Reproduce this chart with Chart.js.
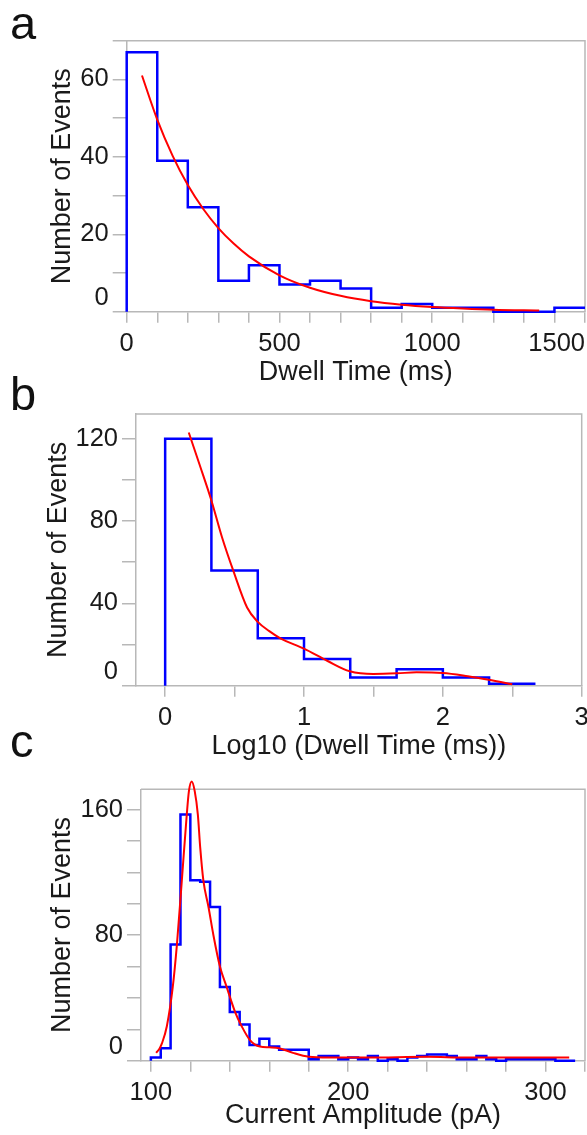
<!DOCTYPE html>
<html>
<head>
<meta charset="utf-8">
<script src="https://cdn.jsdelivr.net/npm/chart.js@4.4.1/dist/chart.umd.min.js"></script>
<style>
  body { margin: 0; background: #fff; width: 587px; height: 1135px; position: relative; overflow: hidden; font-family: 'Liberation Sans', Arial, sans-serif; }
  canvas { position: absolute; left: 0; }
  .lbl { position: absolute; left: 10px; font-size: 47px; line-height: 46px; color: #111; }
</style>
</head>
<body>
<canvas id="chartA" width="587" height="390" style="top:0"></canvas>
<canvas id="chartB" width="587" height="380" style="top:390px"></canvas>
<canvas id="chartC" width="587" height="365" style="top:770px"></canvas>
<div class="lbl" style="top:0">a</div>
<div class="lbl" style="top:371px">b</div>
<div class="lbl" style="top:718px">c</div>
<script>
// panel a: dwell time histogram (100 ms bins) + exponential fit
const aEdges = [0, 100, 200, 300, 400, 500, 600, 700, 800, 900, 1000, 1100, 1200, 1300, 1400, 1500];
const aCounts = [67, 39, 27, 8, 12, 7, 8, 6, 1, 2, 1, 1, 0, 0, 1];
const aFitX = [50, 100, 150, 200, 250, 300, 350, 400, 500, 600, 700, 800, 900, 1000, 1100, 1200, 1350];
const aFitY = [61, 49.6, 40.3, 32.7, 26.6, 21.6, 17.6, 14.3, 9.4, 6.2, 4.1, 2.7, 1.8, 1.2, 0.8, 0.5, 0.3];
const aXTicks = [0, 100, 200, 300, 400, 500, 600, 700, 800, 900, 1000, 1100, 1200, 1300, 1400, 1500];
const aXLabels = [0, 500, 1000, 1500];
const aYTicks = [0, 10, 20, 30, 40, 50, 60, 70];
const aYLabels = [0, 20, 40, 60];

// panel b: log10 dwell time
const bEdges = [0, 0.333, 0.667, 1, 1.333, 1.667, 2, 2.333, 2.667];
const bCounts = [120, 56, 23, 13, 4, 8, 4, 1];
const bFitX = [0.17, 0.25, 0.333, 0.41, 0.49, 0.59, 0.667, 0.75, 0.83, 1.0, 1.17, 1.33, 1.5, 1.67, 1.81, 2.0, 2.18, 2.33, 2.5];
const bFitY = [123, 107, 90, 72, 56, 38, 31, 26.5, 23, 18, 12, 7, 5.7, 6, 6.5, 6.2, 4.6, 2.9, 0.7];
const bXTicks = [0, 0.5, 1, 1.5, 2, 2.5, 3];
const bXLabels = [0, 1, 2, 3];
const bYTicks = [0, 20, 40, 60, 80, 100, 120];
const bYLabels = [0, 40, 80, 120];

// panel c: current amplitude (5 pA bins)
const cEdges = [100, 105, 110, 115, 120, 125, 130, 135, 140, 145, 150, 155, 160, 165, 170, 175, 180, 185, 190, 195, 200,
  205, 210, 215, 220, 225, 230, 235, 240, 245, 250, 255, 260, 265, 270, 275, 280, 285, 290, 295, 300, 305, 310, 315];
const cCounts = [2, 8, 74, 157, 115, 114, 98, 47, 31, 23, 10, 14, 9, 7, 7, 7, 1, 3, 3, 1, 2,
  1, 3, 0, 1, 0, 2, 3, 4, 4, 3, 1, 1, 3, 1, 0, 1, 1, 1, 1, 1, 0, 0];
const cFitX = [102.7, 104.5, 105.6, 108.1, 111.1, 113.2, 115.7, 118.2, 119.3, 120.7, 122.2, 123.8, 125, 126.6, 129.2,
  131.7, 135, 138.4, 142.7, 146, 150.3, 155.3, 160, 165, 172, 180, 190, 210, 240, 260, 290, 312];
const cFitY = [5, 8, 11, 22, 47, 74, 115, 157, 172, 178, 172, 157, 136, 115, 98,
  80, 60, 47, 31, 22, 13, 9, 8.5, 8, 5, 2.5, 2, 2, 2.5, 2, 2, 2];
const cXTicks = [100, 120, 140, 160, 180, 200, 220, 240, 260, 280, 300, 320];
const cXLabels = [100, 200, 300];
const cYTicks = [0, 20, 40, 60, 80, 100, 120, 140, 160];
const cYLabels = [0, 80, 160];

Chart.defaults.font.family = "'Liberation Sans', Arial, sans-serif";
Chart.defaults.color = '#1a1a1a';
const axisGrey = '#b8b8b8';

const framePlugin = {
  id: 'frame',
  beforeDatasetsDraw(chart) {
    const { ctx, chartArea: a } = chart;
    ctx.save();
    ctx.strokeStyle = axisGrey;
    ctx.lineWidth = 1.5;
    ctx.beginPath();
    ctx.moveTo(a.left, a.top);
    ctx.lineTo(a.right, a.top);
    ctx.lineTo(a.right, a.bottom);
    ctx.stroke();
    ctx.restore();
  }
};

function histPoints(edges, counts) {
  const pts = [{ x: edges[0], y: 0 }];
  counts.forEach((c, i) => pts.push({ x: edges[i], y: c }));
  pts.push({ x: edges[edges.length - 1], y: counts[counts.length - 1] });
  return pts;
}

function fitPoints(xs, ys) {
  return xs.map((x, i) => ({ x: x, y: ys[i] }));
}

function makeChart(id, cfg) {
  const grid = (len) => ({ drawOnChartArea: false, drawTicks: true, tickLength: len, color: axisGrey, lineWidth: 1.5 });
  const border = { display: true, color: axisGrey, width: 1.5 };
  return new Chart(document.getElementById(id), {
    type: 'line',
    data: {
      datasets: [
        { data: fitPoints(cfg.fitX, cfg.fitY), borderColor: '#ff0000', borderWidth: 2, pointRadius: 0,
          cubicInterpolationMode: 'monotone', clip: false },
        { data: histPoints(cfg.edges, cfg.counts), borderColor: '#0000ff', borderWidth: 2.5, pointRadius: 0,
          stepped: 'before', clip: false }
      ]
    },
    options: {
      responsive: false,
      animation: false,
      layout: { padding: cfg.padding },
      plugins: { legend: { display: false }, tooltip: { enabled: false } },
      scales: {
        x: {
          type: 'linear', min: cfg.xMin, max: cfg.xMax,
          afterBuildTicks: s => { s.ticks = cfg.xTicks.map(v => ({ value: v })); },
          afterFit: s => { s.height = cfg.xHeight; s.paddingLeft = 0; s.paddingRight = 0; },
          ticks: {
            autoSkip: false, maxRotation: 0, minRotation: 0, padding: 6, font: { size: 25.5 },
            // last label of panel a sits flush against the right edge
            callback: v => cfg.xLabels.includes(v) ? (v === cfg.xMax && cfg.shiftLast ? v + '        ' : String(v)) : ''
          },
          grid: grid(11), border: border,
          title: { display: true, text: cfg.xTitle, font: { size: 27 }, padding: { top: 0, bottom: cfg.xTitlePad } }
        },
        y: {
          type: 'linear', min: 0, max: cfg.yMax,
          afterBuildTicks: s => { s.ticks = cfg.yTicks.map(v => ({ value: v })); },
          afterFit: s => { s.width = cfg.yWidth; s.paddingTop = 0; s.paddingBottom = 0; },
          ticks: {
            autoSkip: false, padding: 4, font: { size: 25.5, lineHeight: 1.05 },
            callback: v => cfg.yLabels.includes(v) ? (v === 0 ? ['0', ''] : String(v)) : ''
          },
          grid: grid(14), border: border,
          title: { display: true, text: 'Number of Events', font: { size: 27 }, padding: { top: cfg.yTitlePad, bottom: 0 } }
        }
      }
    },
    plugins: [framePlugin]
  });
}

makeChart('chartA', {
  edges: aEdges, counts: aCounts, fitX: aFitX, fitY: aFitY,
  xTicks: aXTicks, xLabels: aXLabels, yTicks: aYTicks, yLabels: aYLabels,
  xMin: 0, xMax: 1500, yMax: 70, shiftLast: true,
  padding: { top: 40.7, right: 2, left: 0, bottom: 0 }, yWidth: 126.7, xHeight: 78.3,
  xTitle: 'Dwell Time (ms)', xTitlePad: 1.5, yTitlePad: 46
});

makeChart('chartB', {
  edges: bEdges, counts: bCounts, fitX: bFitX, fitY: bFitY,
  xTicks: bXTicks, xLabels: bXLabels, yTicks: bYTicks, yLabels: bYLabels,
  xMin: -0.21, xMax: 3, yMax: 132, shiftLast: false,
  padding: { top: 24, right: 5.3, left: 0, bottom: 0 }, yWidth: 136, xHeight: 84.3,
  xTitle: 'Log10 (Dwell Time (ms))', xTitlePad: 7.5, yTitlePad: 42
});

makeChart('chartC', {
  edges: cEdges, counts: cCounts, fitX: cFitX, fitY: cFitY,
  xTicks: cXTicks, xLabels: cXLabels, yTicks: cYTicks, yLabels: cYLabels,
  xMin: 95, xMax: 320, yMax: 173, shiftLast: false,
  padding: { top: 19.3, right: 2, left: 0, bottom: 0 }, yWidth: 141, xHeight: 74.3,
  xTitle: 'Current Amplitude (pA)', xTitlePad: 3.2, yTitlePad: 46
});
</script>
</body>
</html>
